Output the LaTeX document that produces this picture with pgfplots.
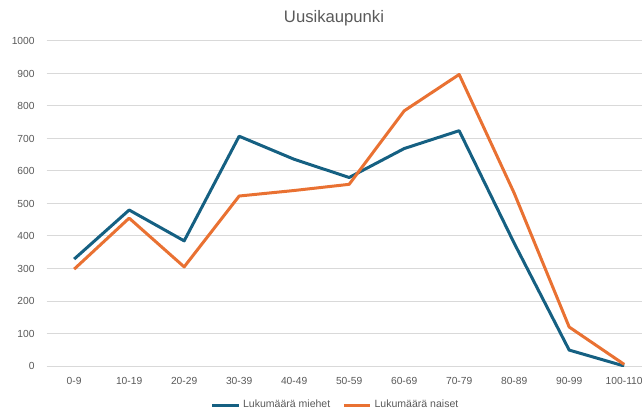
\documentclass[border=0pt]{standalone}
\usepackage{fontspec}
\setmainfont{Liberation Sans}
\usepackage{pgfplots}
\pgfplotsset{compat=1.18}
\definecolor{cblue}{HTML}{156082}
\definecolor{corange}{HTML}{E97132}
\definecolor{txtgrey}{HTML}{595959}
\definecolor{gridgrey}{HTML}{D9D9D9}
\begin{document}
\begin{tikzpicture}
\useasboundingbox (-35pt,-36pt) rectangle (446.5pt,274.5pt);
\clip (-35pt,-36pt) rectangle (446.5pt,274.5pt);
\begin{axis}[
  at={(0pt,0pt)}, anchor=south west,
  scale only axis,
  width=453.75pt, height=243.75pt,
  xmin=-0.5, xmax=10.5,
  ymin=0, ymax=1000,
  xtick={0,...,10},
  xticklabels={0-9,10-19,20-29,30-39,40-49,50-59,60-69,70-79,80-89,90-99,100-110},
  ytick={0,100,...,1000},
  axis line style={draw=none},
  major tick length=0pt,
  ymajorgrids,
  grid style={gridgrey, line width=0.75pt},
  /pgf/number format/assume math mode=true,
  /pgf/number format/1000 sep={},
  ticklabel style={font=\fontsize{7.7}{9}\selectfont, text=txtgrey},
  xticklabel style={yshift=-5pt},
  yticklabel style={xshift=-5.5pt},
  legend style={at={(0.478,-0.12)}, anchor=center, draw=none, fill=none,
    font=\fontsize{7.9}{9}\selectfont, text=txtgrey,
    /tikz/every even column/.append style={column sep=7pt}},
  legend columns=2,
  legend cell align=left,
  legend image code/.code={\draw[#1, line width=2.25pt] (0pt,0pt) -- (20pt,0pt);},
]
\addplot[cblue, line width=2.25pt, line join=round] coordinates {
(0,329) (1,480) (2,385) (3,707) (4,636) (5,580) (6,669) (7,724) (8,378) (9,49) (10,0)};
\addlegendentry{Lukumäärä miehet}
\addplot[corange, line width=2.25pt, line join=round] coordinates {
(0,298) (1,455) (2,305) (3,523) (4,540) (5,559) (6,785) (7,897) (8,532) (9,120) (10,5)};
\addlegendentry{Lukumäärä naiset}
\end{axis}
\node[text=txtgrey, font=\fontsize{12.5}{14}\selectfont] at (215.5pt,261pt) {Uusikaupunki};
\end{tikzpicture}
\end{document}
